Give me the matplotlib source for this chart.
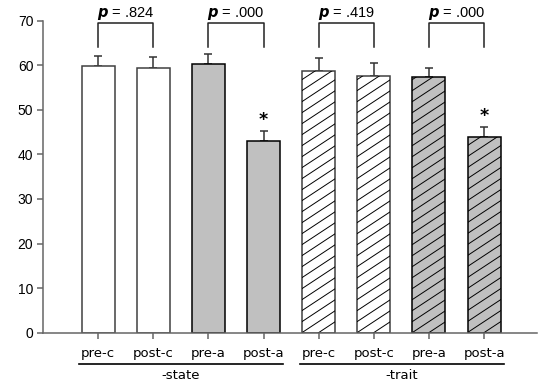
import numpy as np
import matplotlib
matplotlib.use("Agg")
import matplotlib.pyplot as plt

matplotlib.rcParams["mathtext.fontset"] = "dejavusans"

# Data
conditions = ["pre-c", "post-c", "pre-a", "post-a", "pre-c", "post-c", "pre-a", "post-a"]
means = [59.8, 59.4, 60.3, 43.0, 58.8, 57.6, 57.3, 43.8]
errors = [2.2, 2.5, 2.3, 2.3, 2.8, 2.8, 2.2, 2.3]
groups = ["-state", "-trait"]
p_labels = [".824", ".000", ".419", ".000"]
significant = [False, False, False, True, False, False, False, True]

fills = ["white", "white", "#c0c0c0", "#c0c0c0", "white", "white", "#c0c0c0", "#c0c0c0"]
edges = ["#404040", "#404040", "black", "black", "#404040", "#404040", "black", "black"]
hatched = [False, False, False, False, True, True, True, True]

W, H = 538, 381
fig = plt.figure(figsize=(W / 100, H / 100), dpi=100)
ax = fig.add_axes([43 / W, 1 - 332.7 / H, (537 - 43) / W, (332.7 - 20.7) / H])

x = np.arange(len(means))
width = 0.6
bars = ax.bar(x, means, width=width, color=fills, edgecolor=edges, linewidth=1.1, zorder=2)
ax.errorbar(x, means, yerr=[np.zeros(len(errors)), errors], fmt="none",
            ecolor="#333333", elinewidth=1.1, capsize=2.9, capthick=1.1, zorder=1)

ax.set_xlim(-1.0, 7.96)
ax.set_ylim(0, 70)

# Diagonal hatching drawn as clipped lines inside each hatched bar
px_x = (537 - 43) / (7.96 + 1.0)
px_y = (332.7 - 20.7) / 70
slope = 0.66 * px_x / px_y
spacing = 11 / px_y
for b, h in zip(bars, hatched):
    if not h:
        continue
    x0, w, top = b.get_x(), b.get_width(), b.get_height()
    rise = slope * w
    for y0 in np.arange(-rise, top + spacing, spacing):
        ln, = ax.plot([x0, x0 + w], [y0, y0 + rise], color="black", lw=0.7, zorder=2.5)
        ln.set_clip_path(b)

# Significance markers
for xi, m, e, s in zip(x, means, errors, significant):
    if s:
        ax.text(xi, m + e + 0.5, "*", ha="center", va="bottom", fontsize=12.5,
                fontweight="bold", family="DejaVu Sans")

# Pre/post comparison brackets
for k, pl in enumerate(p_labels):
    a, b2 = 2 * k, 2 * k + 1
    ax.plot([a, a, b2, b2], [64.2, 69.4, 69.4, 64.2], color="#222222", lw=1.1,
            clip_on=False, zorder=3)
    cx = (a + b2) / 2
    ax.text(cx, 71.7, r"$\boldsymbol{p}$ = " + pl, ha="center", va="center",
            fontsize=10.5, family="Liberation Sans", clip_on=False)

# Axes styling
for sp in ["top", "right"]:
    ax.spines[sp].set_visible(False)
for sp in ["left", "bottom"]:
    ax.spines[sp].set_color("#666666")
    ax.spines[sp].set_linewidth(1.1)

ax.set_yticks(np.arange(0, 71, 10))
ax.tick_params(axis="y", direction="out", length=4, width=1.1, color="#666666",
               labelsize=10, pad=3)
ax.set_xticks(x)
ax.set_xticklabels(conditions, fontsize=9.5, family="DejaVu Sans")
ax.tick_params(axis="x", direction="out", length=4, width=1.1, color="#666666", pad=6)
for lab in ax.get_yticklabels():
    lab.set_family("Liberation Sans")

# Group underlines and labels
for gi, g in enumerate(groups):
    s, e = 4 * gi, 4 * gi + 3
    ax.plot([s - 0.34, e + 0.36], [-6.96, -6.96], color="black", lw=1.2, clip_on=False)
    ax.text((s + e) / 2, -9.65, g, ha="center", va="center", fontsize=9.5,
            family="DejaVu Sans", clip_on=False)

fig.savefig("out.png", dpi=100)
